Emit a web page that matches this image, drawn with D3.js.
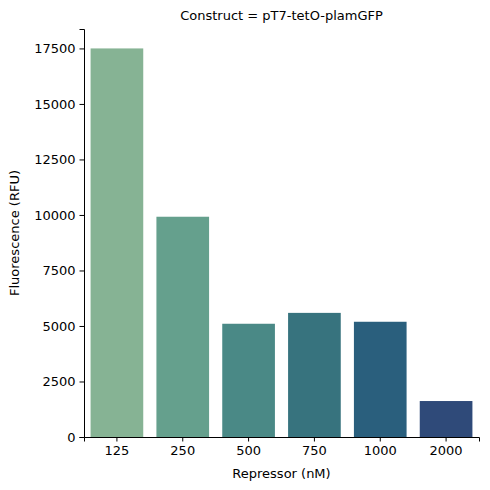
<!DOCTYPE html>
<html>
<head>
<meta charset="utf-8">
<script src="https://cdn.jsdelivr.net/npm/d3@7"></script>
<style>
  body { margin: 0; background: white; }
  text { font-family: "DejaVu Sans", sans-serif; }
</style>
</head>
<body>
<div id="chart"></div>
<script>
const repressors = ["125", "250", "500", "750", "1000", "2000"];
const fluorescence = [17500, 9920, 5100, 5590, 5190, 1620];
const barColors = ["#86b394", "#65a08d", "#4a8986", "#37737e", "#2a5f7d", "#2f4a79"];
const yTicks = [0, 2500, 5000, 7500, 10000, 12500, 15000, 17500];

const margin = { top: 29, right: 11, bottom: 53, left: 84 };
const width = 490 - margin.left - margin.right;
const height = 490 - margin.top - margin.bottom;
const fs = "13px";

const svg = d3.select("#chart").append("svg")
  .attr("width", 490).attr("height", 490)
  .append("g")
  .attr("transform", `translate(${margin.left},${margin.top})`);

const x = d3.scaleBand().domain(repressors).range([0, width])
  .paddingInner(0.2).paddingOuter(0.1);
const y = d3.scaleLinear().domain([0, 18375]).range([height, 0]);

svg.selectAll("rect").data(repressors).enter().append("rect")
  .attr("x", d => x(d))
  .attr("width", x.bandwidth())
  .attr("y", (d, i) => y(fluorescence[i]))
  .attr("height", (d, i) => y(0) - y(fluorescence[i]))
  .attr("fill", (d, i) => barColors[i]);

const xAxis = svg.append("g").attr("transform", `translate(0,${height})`)
  .call(d3.axisBottom(x).tickSizeOuter(0).tickSize(4.5).tickPadding(4));
const yAxis = svg.append("g")
  .call(d3.axisLeft(y).tickValues(yTicks).tickFormat(d3.format("d"))
    .tickSizeOuter(0).tickSize(4.5).tickPadding(4));
[xAxis, yAxis].forEach(a => {
  a.selectAll("text").attr("font-size", fs).attr("fill", "black")
    .style("font-family", "DejaVu Sans, sans-serif");
  a.selectAll("line,path").attr("stroke", "black");
});

svg.append("text").attr("x", width / 2).attr("y", height + 41)
  .attr("text-anchor", "middle").attr("font-size", fs).text("Repressor (nM)");
svg.append("text").attr("transform", `translate(${-65},${height / 2}) rotate(-90)`)
  .attr("text-anchor", "middle").attr("font-size", fs).text("Fluorescence (RFU)");
svg.append("text").attr("x", width / 2).attr("y", -9)
  .attr("text-anchor", "middle").attr("font-size", fs).text("Construct = pT7-tetO-plamGFP");
</script>
</body>
</html>
